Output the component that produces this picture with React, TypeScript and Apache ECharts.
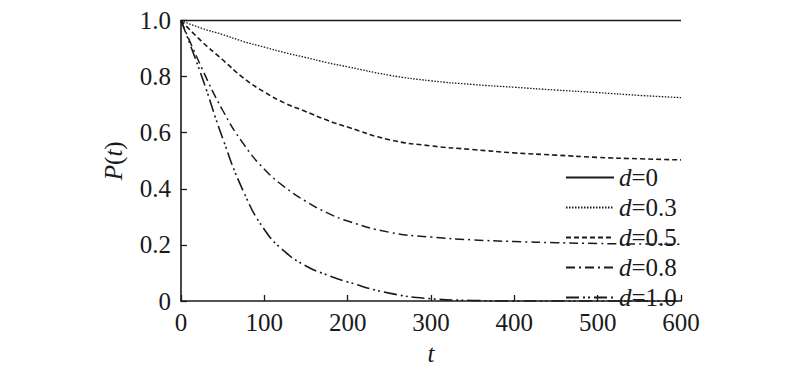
import React, { useEffect, useRef } from "react";
import * as echarts from "echarts";

const tValues = [0, 25, 50, 75, 100, 125, 150, 175, 200, 250, 300, 350, 400, 450, 500, 550, 600];
const seriesNames = ["d=0", "d=0.3", "d=0.5", "d=0.8", "d=1.0"];
const pD0 = [1, 1, 1, 1, 1, 1, 1, 1, 1, 1, 1, 1, 1, 1, 1, 1, 1];
const pD03 = [1, 0.972, 0.95, 0.925, 0.905, 0.885, 0.868, 0.85, 0.835, 0.805, 0.785, 0.772, 0.762, 0.752, 0.743, 0.733, 0.725];
const pD05 = [1, 0.925, 0.86, 0.795, 0.745, 0.705, 0.675, 0.645, 0.62, 0.575, 0.553, 0.54, 0.528, 0.52, 0.512, 0.507, 0.503];
const pD08 = [1, 0.83, 0.68, 0.56, 0.47, 0.405, 0.355, 0.315, 0.285, 0.245, 0.228, 0.218, 0.212, 0.208, 0.205, 0.203, 0.202];
const pD10 = [1, 0.8, 0.58, 0.39, 0.255, 0.175, 0.125, 0.093, 0.068, 0.028, 0.008, 0.002, 0, 0, 0, 0, 0];
const xTicks = [0, 100, 200, 300, 400, 500, 600];
const yTicks = [0, 0.2, 0.4, 0.6, 0.8, 1.0];

const FONT = "Liberation Serif";
const INK = "#1a1a1a";

export default function App() {
  const ref = useRef<HTMLDivElement>(null);
  useEffect(() => {
    if (!ref.current) return;
    const chart = echarts.init(ref.current, null, { renderer: "svg" });
    const allData = [pD0, pD03, pD05, pD08, pD10];
    const dashes: any[] = [
      "solid",
      [1.5, 1.5],
      [5, 3],
      [9, 4, 2, 4],
      [13, 4, 2, 3, 2, 4],
    ];
    const widths = [1.6, 1.3, 1.6, 1.5, 1.6];
    chart.setOption({
      animation: false,
      backgroundColor: "#fff",
      textStyle: { fontFamily: FONT, color: INK },
      grid: { left: 173, right: 111, top: 8, bottom: 57, containLabel: false },
      legend: {
        orient: "vertical",
        left: 552,
        top: 152,
        itemWidth: 48,
        itemHeight: 14,
        itemGap: 5,
        data: seriesNames,
        itemStyle: { opacity: 0 },
        formatter: (name: string) => `{i|d}{n|=${name.slice(2)}}`,
        textStyle: {
          fontFamily: FONT,
          fontSize: 25,
          color: INK,
          rich: {
            i: { fontStyle: "italic", fontFamily: FONT, fontSize: 25, color: INK },
            n: { fontFamily: FONT, fontSize: 25, color: INK },
          },
        },
      },
      xAxis: {
        type: "value",
        min: 0,
        max: 600,
        interval: 100,
        name: "{i|t}",
        nameLocation: "middle",
        nameGap: 40,
        nameTextStyle: {
          fontFamily: FONT,
          fontSize: 25,
          color: INK,
          rich: { i: { fontStyle: "italic", fontFamily: FONT, fontSize: 25, color: INK } },
        },
        axisLine: { show: true, lineStyle: { color: INK, width: 1.6 } },
        axisTick: { show: true, inside: true, length: 6, lineStyle: { color: INK, width: 1.3 } },
        axisLabel: {
          fontFamily: FONT,
          fontSize: 25,
          color: INK,
          margin: 9,
          customValues: xTicks,
        },
        splitLine: { show: false },
      },
      yAxis: {
        type: "value",
        min: 0,
        max: 1,
        interval: 0.2,
        name: "{i|P}{n|(}{i|t}{n|)}",
        nameLocation: "middle",
        nameGap: 55,
        nameTextStyle: {
          fontFamily: FONT,
          fontSize: 25,
          color: INK,
          rich: {
            i: { fontStyle: "italic", fontFamily: FONT, fontSize: 25, color: INK },
            n: { fontFamily: FONT, fontSize: 25, color: INK },
          },
        },
        axisLine: { show: true, lineStyle: { color: INK, width: 1.6 } },
        axisTick: { show: true, inside: true, length: 6, lineStyle: { color: INK, width: 1.3 } },
        axisLabel: {
          fontFamily: FONT,
          fontSize: 25,
          color: INK,
          margin: 10,
          customValues: yTicks,
          formatter: (v: number) => (v === 0 ? "0" : v.toFixed(1)),
        },
        splitLine: { show: false },
      },
      series: seriesNames.map((name, i) => ({
        name,
        type: "line",
        data: tValues.map((t, j) => [t, allData[i][j]]),
        smooth: 0.5,
        showSymbol: false,
        symbol: "none",
        clip: false,
        z: 10 - i,
        lineStyle: { color: INK, width: widths[i], type: dashes[i] },
        itemStyle: { color: INK },
      })),
    });
    return () => chart.dispose();
  }, []);
  return <div ref={ref} style={{ width: 784, height: 363 }} />;
}
